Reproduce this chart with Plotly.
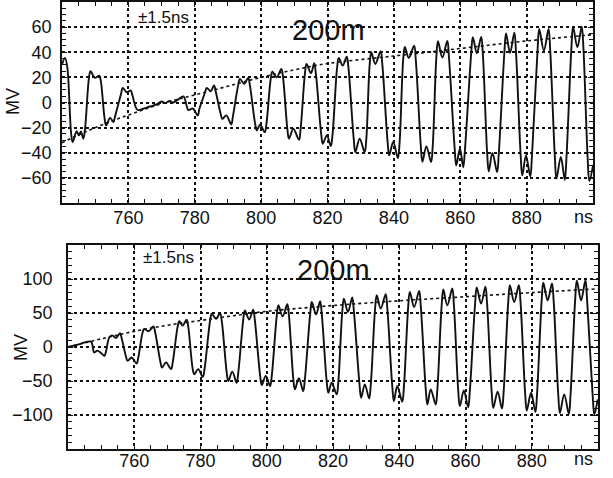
import plotly.graph_objects as go

# ---------------- data ----------------
# upper panel waveform (time in ns, value in MV): edges, peaks, dips, troughs, bumps
top_time = [740.0, 740.9, 741.6,
            742.7, 743.2, 744.4, 745.1, 745.7, 746.4, 746.9,
            748.1, 748.6, 749.9, 751.2, 751.7,
            752.8, 753.3, 754.5, 755.5, 756.0,
            757.8, 758.3, 759.5, 760.7, 761.2,
            762.7, 764.5, 766.5, 768.5, 770.0, 771.0, 772.5, 773.5, 775.0, 776.6,
            778.1, 779.4, 780.9, 781.4,
            783.1, 783.6, 784.8, 785.8, 786.3,
            787.8, 788.3, 789.5, 791.0, 791.5,
            793.1, 793.6, 794.9, 796.1, 796.6,
            798.2, 798.7, 799.7, 801.1, 801.6,
            802.9, 803.4, 804.7, 806.1, 806.6,
            807.9, 808.4, 809.7, 811.4, 811.9,
            813.2, 813.7, 815.0, 816.0, 816.5,
            818.1, 818.6, 819.8, 821.0, 821.5,
            822.9, 823.4, 824.6, 825.8, 826.3,
            827.9, 828.4, 829.7, 831.2, 831.7,
            832.7, 833.2, 834.4, 836.0, 836.5,
            838.1, 838.6, 839.8, 841.2, 841.7,
            842.8, 843.3, 844.5, 846.1, 846.6,
            848.1, 848.6, 849.8, 851.2, 851.7,
            852.8, 853.3, 854.6, 856.1, 856.6,
            858.3, 858.8, 859.9, 860.9, 861.4,
            863.3, 863.8, 865.0, 866.3, 866.8,
            868.1, 868.6, 869.7, 871.1, 871.6,
            873.3, 873.8, 875.0, 876.3, 876.8,
            878.2, 878.7, 879.8, 881.1, 881.6,
            883.3, 883.8, 885.2, 886.6, 887.1,
            888.5, 889.0, 890.3, 891.5, 892.0,
            893.5, 894.0, 895.3, 896.6, 897.1,
            898.4, 898.9, 900.0]
top_mv = [30, 35.5, 28,
          -23, -31.5, -22.8, -26.2, -23, -28.8, -22,
          19, 24.9, 19.6, 21.4, 17,
          -12, -18.3, -12.2, -15.6, -11,
          7, 11.6, 8.2, 9.5, 6,
          -5.8, -5, -3.2, -1.5, 0.8, -0.5, 1.2, 0, 2.5, 4.8,
          -6, -4.8, -10.3, -5,
          8, 11.6, 9, 13.5, 9,
          -9, -13, -10.3, -17.5, -11,
          14, 18.8, 14.8, 19.6, 14,
          -17, -22.2, -17.7, -23.6, -17,
          19, 24.6, 20.1, 26.7, 20,
          -21, -28.8, -20.9, -29.6, -21,
          23, 30.7, 23.3, 31.2, 23,
          -25, -32.8, -26.2, -34.6, -26,
          28, 35.5, 29.4, 36.4, 28,
          -29, -39.4, -28.8, -39.4, -29,
          30, 40, 30.7, 40.8, 31,
          -31, -42.1, -31.5, -44.3, -33,
          34, 44.2, 35.5, 45.2, 34,
          -34, -47.2, -34.9, -47.4, -35,
          36, 48.7, 35.8, 49, 36,
          -36, -50, -36.8, -51.5, -38,
          39, 51.9, 39.2, 52.2, 39,
          -40, -54.8, -40.2, -55.3, -41,
          40, 55, 39.6, 55.5, 40,
          -42, -58, -42.1, -58.8, -43,
          42, 58.5, 41.3, 58.5, 42,
          -43, -60.6, -43.4, -61.6, -44,
          44, 60.3, 43.9, 60.3, 44,
          -45, -62.5, -50]
top_env_time = [740, 750, 760, 770, 780, 790, 800, 810, 820, 840, 860, 880, 900]
top_env_mv = [-32, -20, -10, -1, 6, 13, 20, 26, 31, 37, 43, 49, 54]

# lower panel waveform
bot_time = [740.0, 743.0, 746.9,
            747.9, 748.9, 749.9, 751.0, 751.5,
            752.5, 753.5, 754.5, 755.7, 756.2,
            757.5, 758.0, 759.2, 760.7, 761.2,
            762.5, 763.0, 764.3, 765.8, 766.3,
            767.9, 768.4, 769.6, 771.1, 771.6,
            773.1, 773.6, 774.6, 775.8, 776.3,
            777.6, 778.1, 779.3, 780.7, 781.2,
            782.9, 783.4, 784.7, 785.9, 786.4,
            787.9, 788.4, 789.6, 790.9, 791.4,
            792.9, 793.4, 794.7, 795.9, 796.4,
            798.0, 798.5, 799.7, 801.0, 801.5,
            803.0, 803.5, 804.8, 806.2, 806.7,
            808.0, 808.5, 809.7, 811.0, 811.5,
            813.1, 813.6, 814.9, 816.1, 816.6,
            818.1, 818.6, 819.6, 821.1, 821.6,
            822.8, 823.3, 824.5, 825.8, 826.3,
            828.0, 828.5, 829.6, 830.9, 831.4,
            832.7, 833.2, 834.4, 835.9, 836.4,
            837.9, 838.4, 839.4, 840.9, 841.4,
            842.7, 843.2, 844.5, 846.0, 846.5,
            848.0, 848.5, 849.5, 851.0, 851.5,
            852.8, 853.3, 854.5, 856.0, 856.5,
            857.8, 858.3, 859.5, 860.8, 861.3,
            862.9, 863.4, 864.7, 866.0, 866.5,
            867.9, 868.4, 869.7, 871.0, 871.5,
            872.9, 873.4, 874.7, 876.1, 876.6,
            878.0, 878.5, 879.8, 881.1, 881.6,
            883.0, 883.5, 884.8, 886.1, 886.6,
            888.0, 888.5, 889.8, 891.2, 891.7,
            893.1, 893.6, 894.9, 896.2, 896.7,
            898.4, 898.9, 899.9]
bot_mv = [0, 3.5, 7.9,
          -8, -5.3, -8.5, -12.9, -6,
          14.3, 16.8, 13.3, 20.2, 13,
          -14, -20.3, -15.4, -24.3, -16,
          21, 26.7, 23.2, 30.1, 22,
          -22, -30.2, -22.8, -32.6, -23,
          30, 38, 31.6, 40, 30,
          -31, -40, -32.6, -44, -33,
          39, 49, 41.5, 49.9, 39,
          -37, -50, -36.2, -52.5, -38,
          40, 53.9, 40.5, 54.9, 40,
          -42, -56, -42.6, -57.4, -43,
          45, 61.3, 45, 62.8, 46,
          -46, -62.3, -46, -64.8, -48,
          48, 66.2, 47.9, 67.2, 49,
          -51, -67.3, -52.5, -69.7, -52,
          52, 71.2, 51.4, 72.7, 53,
          -55, -74.7, -54.9, -75.7, -56,
          56, 76.1, 56.4, 77.6, 57,
          -58, -79.6, -57.4, -80.6, -59,
          59, 81, 58.8, 82.5, 60,
          -62, -84.6, -62.3, -84.6, -63,
          61, 84.6, 61.3, 86, 62,
          -64, -87, -63.8, -88.5, -65,
          64, 87.5, 63.8, 88.5, 65,
          -66, -89.6, -65.8, -90.6, -67,
          66, 91, 66.2, 91, 67,
          -68, -93.5, -67.3, -95.5, -69,
          69, 94.4, 68.7, 93.5, 69,
          -70, -97, -69.7, -98.5, -71,
          69, 97.4, 68.7, 98.4, 70,
          -72, -99.4, -77]
bot_env_time = [740, 750, 760, 770, 780, 790, 800, 810, 820, 840, 860, 880, 900]
bot_env_mv = [0, 12, 23, 32, 39, 46, 52.5, 57, 61, 68, 74, 80, 85.5]

x_ticks = [760, 780, 800, 820, 840, 860, 880]
x_ticktext = ["760", "780", "800", "820", "840", "860", "880"]
top_yticks = [-60, -40, -20, 0, 20, 40, 60]
bot_yticks = [-100, -50, 0, 50, 100]

# ---------------- figure ----------------
FONT = "Liberation Sans, Arial, Helvetica, sans-serif"
INK = "#111111"

fig = go.Figure()
wave_line = dict(color=INK, width=1.9, shape="spline", smoothing=1.0)
env_line = dict(color=INK, width=1.6, dash="dot", shape="spline")
fig.add_trace(go.Scatter(x=top_time, y=top_mv, mode="lines", line=wave_line,
                         xaxis="x", yaxis="y", hoverinfo="skip"))
fig.add_trace(go.Scatter(x=top_env_time, y=top_env_mv, mode="lines", line=env_line,
                         xaxis="x", yaxis="y", hoverinfo="skip"))
fig.add_trace(go.Scatter(x=bot_time, y=bot_mv, mode="lines", line=wave_line,
                         xaxis="x2", yaxis="y2", hoverinfo="skip"))
fig.add_trace(go.Scatter(x=bot_env_time, y=bot_env_mv, mode="lines", line=env_line,
                         xaxis="x2", yaxis="y2", hoverinfo="skip"))

common = dict(showline=True, linecolor=INK, linewidth=1.5, mirror="allticks",
              ticks="inside", ticklen=5, tickcolor=INK, tickwidth=1,
              showgrid=True, gridcolor="#111111", gridwidth=1.5, griddash="dot",
              zeroline=False, tickfont=dict(family=FONT, size=18, color=INK))

fig.update_layout(
    width=613, height=478,
    margin=dict(l=0, r=0, t=0, b=0),
    paper_bgcolor="white", plot_bgcolor="white",
    showlegend=False,
    xaxis=dict(domain=[62/613, 593/613], anchor="y", range=[740, 900],
               tickmode="array", tickvals=x_ticks, ticktext=x_ticktext,
               ticklabelstandoff=-2,
               minor=dict(tick0=740, dtick=5, ticks="inside", ticklen=4,
                          tickcolor=INK, showgrid=False), **common),
    yaxis=dict(domain=[1-203/478, 1-2/478], anchor="x", range=[-80, 80],
               tickmode="array", tickvals=top_yticks, ticklabelstandoff=5,
               minor=dict(tick0=0, dtick=5, ticks="inside", ticklen=4,
                          tickcolor=INK, showgrid=False), **common),
    xaxis2=dict(domain=[68/613, 598/613], anchor="y2", range=[740, 900],
                tickmode="array", tickvals=x_ticks, ticktext=x_ticktext,
                ticklabelstandoff=-5,
                minor=dict(tick0=740, dtick=5, ticks="inside", ticklen=4,
                           tickcolor=INK, showgrid=False), **common),
    yaxis2=dict(domain=[1-449/478, 1-245/478], anchor="x2", range=[-150, 150],
                tickmode="array", tickvals=bot_yticks, ticklabelstandoff=10,
                minor=dict(tick0=0, dtick=10, ticks="inside", ticklen=4,
                           tickcolor=INK, showgrid=False), **common),
)

ann = [
    dict(text="±1.5ns", x=770.7, y=67.5, xref="x", yref="y", size=17),
    dict(text="200m", x=820.2, y=58, xref="x", yref="y", size=29),
    dict(text="±1.5ns", x=770.2, y=131, xref="x2", yref="y2", size=17),
    dict(text="200m", x=820.3, y=113, xref="x2", yref="y2", size=29),
    dict(text="ns", x=897, y=1-217/478, xref="x", yref="paper", size=18),
    dict(text="ns", x=895.5, y=1-459/478, xref="x2", yref="paper", size=18),
]
for a in ann:
    fig.add_annotation(text=a["text"], x=a["x"], y=a["y"], xref=a["xref"], yref=a["yref"],
                       showarrow=False, xanchor="center", yanchor="middle",
                       font=dict(family=FONT, size=a["size"], color=INK))
for xp, yp in [(13/613, 1-102/478), (21/613, 1-348/478)]:
    fig.add_annotation(text="MV", x=xp, y=yp, xref="paper", yref="paper",
                       showarrow=False, textangle=-90, xanchor="center", yanchor="middle",
                       font=dict(family=FONT, size=18, color=INK))

fig.write_html("out.html", config={"displayModeBar": False},
               post_script="document.body.style.margin='0';document.body.style.padding='0';")
